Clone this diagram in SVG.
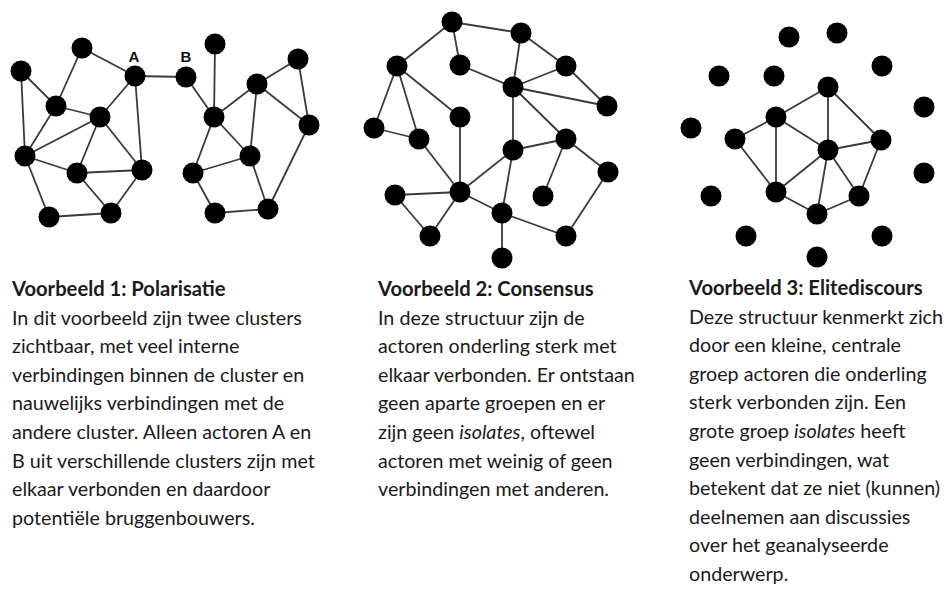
<svg xmlns="http://www.w3.org/2000/svg" width="944" height="591" viewBox="0 0 944 591">
<style>
.e{stroke:#3a3a3a;stroke-width:1.8;fill:none}
.n{fill:#000}
.lbl{font-family:"Liberation Sans",Arial,sans-serif;font-weight:bold;font-size:15px;fill:#111}
.t{font-family:Lato,"Liberation Sans",sans-serif;font-size:19.7px;fill:#1a1a1a}
.b{font-weight:bold;font-size:20.2px}
.i{font-style:italic}
</style>
<rect width="944" height="591" fill="#fff"/>
<g id="connectors">
<line class="e" x1="135" y1="76" x2="186" y2="77"/>
<line class="e" x1="82" y1="48" x2="135" y2="76"/>
<line class="e" x1="82" y1="48" x2="56" y2="106"/>
<line class="e" x1="21" y1="71" x2="56" y2="106"/>
<line class="e" x1="21" y1="71" x2="25" y2="156"/>
<line class="e" x1="56" y1="106" x2="100" y2="117"/>
<line class="e" x1="56" y1="106" x2="25" y2="156"/>
<line class="e" x1="25" y1="156" x2="100" y2="117"/>
<line class="e" x1="100" y1="117" x2="135" y2="76"/>
<line class="e" x1="135" y1="76" x2="142" y2="170"/>
<line class="e" x1="100" y1="117" x2="77" y2="173"/>
<line class="e" x1="100" y1="117" x2="142" y2="170"/>
<line class="e" x1="25" y1="156" x2="77" y2="173"/>
<line class="e" x1="77" y1="173" x2="142" y2="170"/>
<line class="e" x1="25" y1="156" x2="49" y2="217"/>
<line class="e" x1="77" y1="173" x2="111" y2="213"/>
<line class="e" x1="49" y1="217" x2="111" y2="213"/>
<line class="e" x1="142" y1="170" x2="111" y2="213"/>
<line class="e" x1="186" y1="77" x2="214" y2="117"/>
<line class="e" x1="215" y1="44" x2="214" y2="117"/>
<line class="e" x1="214" y1="117" x2="257" y2="84"/>
<line class="e" x1="257" y1="84" x2="298" y2="59"/>
<line class="e" x1="298" y1="59" x2="309" y2="125"/>
<line class="e" x1="257" y1="84" x2="309" y2="125"/>
<line class="e" x1="257" y1="84" x2="250" y2="156"/>
<line class="e" x1="214" y1="117" x2="250" y2="156"/>
<line class="e" x1="214" y1="117" x2="193" y2="173"/>
<line class="e" x1="250" y1="156" x2="193" y2="173"/>
<line class="e" x1="193" y1="173" x2="215" y2="213"/>
<line class="e" x1="215" y1="213" x2="268" y2="209"/>
<line class="e" x1="250" y1="156" x2="268" y2="209"/>
<line class="e" x1="309" y1="125" x2="268" y2="209"/>
<line class="e" x1="452" y1="22" x2="397" y2="66"/>
<line class="e" x1="452" y1="22" x2="460" y2="65"/>
<line class="e" x1="452" y1="22" x2="521" y2="33"/>
<line class="e" x1="521" y1="33" x2="513" y2="87"/>
<line class="e" x1="521" y1="33" x2="566" y2="66"/>
<line class="e" x1="460" y1="65" x2="513" y2="87"/>
<line class="e" x1="513" y1="87" x2="566" y2="66"/>
<line class="e" x1="566" y1="66" x2="607" y2="106"/>
<line class="e" x1="513" y1="87" x2="607" y2="106"/>
<line class="e" x1="513" y1="87" x2="566" y2="139"/>
<line class="e" x1="513" y1="87" x2="513" y2="150"/>
<line class="e" x1="513" y1="150" x2="566" y2="139"/>
<line class="e" x1="566" y1="139" x2="543" y2="196"/>
<line class="e" x1="566" y1="139" x2="608" y2="172"/>
<line class="e" x1="397" y1="66" x2="374" y2="128"/>
<line class="e" x1="397" y1="66" x2="419" y2="139"/>
<line class="e" x1="397" y1="66" x2="460" y2="117"/>
<line class="e" x1="374" y1="128" x2="419" y2="139"/>
<line class="e" x1="419" y1="139" x2="460" y2="192"/>
<line class="e" x1="460" y1="117" x2="460" y2="192"/>
<line class="e" x1="460" y1="192" x2="513" y2="150"/>
<line class="e" x1="460" y1="192" x2="395" y2="195"/>
<line class="e" x1="460" y1="192" x2="430" y2="236"/>
<line class="e" x1="395" y1="195" x2="430" y2="236"/>
<line class="e" x1="460" y1="192" x2="502" y2="213"/>
<line class="e" x1="513" y1="150" x2="502" y2="213"/>
<line class="e" x1="502" y1="213" x2="566" y2="236"/>
<line class="e" x1="608" y1="172" x2="566" y2="236"/>
<line class="e" x1="502" y1="213" x2="502" y2="258"/>
<line class="e" x1="735" y1="139" x2="776" y2="117"/>
<line class="e" x1="735" y1="139" x2="776" y2="192"/>
<line class="e" x1="776" y1="117" x2="776" y2="192"/>
<line class="e" x1="776" y1="117" x2="828" y2="87"/>
<line class="e" x1="776" y1="117" x2="828" y2="150"/>
<line class="e" x1="776" y1="192" x2="828" y2="150"/>
<line class="e" x1="776" y1="192" x2="817" y2="214"/>
<line class="e" x1="828" y1="87" x2="828" y2="150"/>
<line class="e" x1="828" y1="87" x2="881" y2="140"/>
<line class="e" x1="828" y1="150" x2="881" y2="140"/>
<line class="e" x1="881" y1="140" x2="859" y2="196"/>
<line class="e" x1="828" y1="150" x2="859" y2="196"/>
<line class="e" x1="828" y1="150" x2="817" y2="214"/>
<line class="e" x1="817" y1="214" x2="859" y2="196"/>
</g>
<g id="g1-n1"><circle class="n" cx="82" cy="48" r="10.5"/></g>
<g id="g1-n2"><circle class="n" cx="21" cy="71" r="10.5"/></g>
<g id="g1-A"><circle class="n" cx="135" cy="76" r="10.5"/><text class="lbl" x="134" y="62" text-anchor="middle">A</text></g>
<g id="g1-n4"><circle class="n" cx="56" cy="106" r="10.5"/></g>
<g id="g1-n5"><circle class="n" cx="100" cy="117" r="10.5"/></g>
<g id="g1-n6"><circle class="n" cx="25" cy="156" r="10.5"/></g>
<g id="g1-n7"><circle class="n" cx="77" cy="173" r="10.5"/></g>
<g id="g1-n8"><circle class="n" cx="142" cy="170" r="10.5"/></g>
<g id="g1-n9"><circle class="n" cx="49" cy="217" r="10.5"/></g>
<g id="g1-n10"><circle class="n" cx="111" cy="213" r="10.5"/></g>
<g id="g1-B"><circle class="n" cx="186" cy="77" r="10.5"/><text class="lbl" x="186" y="62" text-anchor="middle">B</text></g>
<g id="g1-r1"><circle class="n" cx="215" cy="44" r="10.5"/></g>
<g id="g1-r2"><circle class="n" cx="257" cy="84" r="10.5"/></g>
<g id="g1-r3"><circle class="n" cx="298" cy="59" r="10.5"/></g>
<g id="g1-r4"><circle class="n" cx="214" cy="117" r="10.5"/></g>
<g id="g1-r5"><circle class="n" cx="309" cy="125" r="10.5"/></g>
<g id="g1-r6"><circle class="n" cx="250" cy="156" r="10.5"/></g>
<g id="g1-r7"><circle class="n" cx="193" cy="173" r="10.5"/></g>
<g id="g1-r8"><circle class="n" cx="215" cy="213" r="10.5"/></g>
<g id="g1-r9"><circle class="n" cx="268" cy="209" r="10.5"/></g>
<g id="g2-n1"><circle class="n" cx="452" cy="22" r="10.5"/></g>
<g id="g2-n2"><circle class="n" cx="521" cy="33" r="10.5"/></g>
<g id="g2-n3"><circle class="n" cx="397" cy="66" r="10.5"/></g>
<g id="g2-n4"><circle class="n" cx="460" cy="65" r="10.5"/></g>
<g id="g2-n5"><circle class="n" cx="566" cy="66" r="10.5"/></g>
<g id="g2-n6"><circle class="n" cx="513" cy="87" r="10.5"/></g>
<g id="g2-n7"><circle class="n" cx="607" cy="106" r="10.5"/></g>
<g id="g2-n8"><circle class="n" cx="460" cy="117" r="10.5"/></g>
<g id="g2-n9"><circle class="n" cx="374" cy="128" r="10.5"/></g>
<g id="g2-n10"><circle class="n" cx="419" cy="139" r="10.5"/></g>
<g id="g2-n11"><circle class="n" cx="566" cy="139" r="10.5"/></g>
<g id="g2-n12"><circle class="n" cx="513" cy="150" r="10.5"/></g>
<g id="g2-n13"><circle class="n" cx="608" cy="172" r="10.5"/></g>
<g id="g2-n14"><circle class="n" cx="543" cy="196" r="10.5"/></g>
<g id="g2-n15"><circle class="n" cx="460" cy="192" r="10.5"/></g>
<g id="g2-n16"><circle class="n" cx="395" cy="195" r="10.5"/></g>
<g id="g2-n17"><circle class="n" cx="502" cy="213" r="10.5"/></g>
<g id="g2-n18"><circle class="n" cx="430" cy="236" r="10.5"/></g>
<g id="g2-n19"><circle class="n" cx="566" cy="236" r="10.5"/></g>
<g id="g2-n20"><circle class="n" cx="502" cy="258" r="10.5"/></g>
<g id="g3-i1"><circle class="n" cx="789" cy="37" r="10.5"/></g>
<g id="g3-i2"><circle class="n" cx="837" cy="33" r="10.5"/></g>
<g id="g3-i3"><circle class="n" cx="719" cy="76" r="10.5"/></g>
<g id="g3-i4"><circle class="n" cx="774" cy="76" r="10.5"/></g>
<g id="g3-i5"><circle class="n" cx="882" cy="66" r="10.5"/></g>
<g id="g3-i6"><circle class="n" cx="691" cy="128" r="10.5"/></g>
<g id="g3-i7"><circle class="n" cx="924" cy="107" r="10.5"/></g>
<g id="g3-i8"><circle class="n" cx="924" cy="173" r="10.5"/></g>
<g id="g3-i9"><circle class="n" cx="711" cy="196" r="10.5"/></g>
<g id="g3-i10"><circle class="n" cx="746" cy="236" r="10.5"/></g>
<g id="g3-i11"><circle class="n" cx="882" cy="236" r="10.5"/></g>
<g id="g3-i12"><circle class="n" cx="817" cy="257" r="10.5"/></g>
<g id="g3-c1"><circle class="n" cx="735" cy="139" r="10.5"/></g>
<g id="g3-c2"><circle class="n" cx="776" cy="117" r="10.5"/></g>
<g id="g3-c3"><circle class="n" cx="776" cy="192" r="10.5"/></g>
<g id="g3-c4"><circle class="n" cx="828" cy="87" r="10.5"/></g>
<g id="g3-c5"><circle class="n" cx="828" cy="150" r="10.5"/></g>
<g id="g3-c6"><circle class="n" cx="881" cy="140" r="10.5"/></g>
<g id="g3-c7"><circle class="n" cx="859" cy="196" r="10.5"/></g>
<g id="g3-c8"><circle class="n" cx="817" cy="214" r="10.5"/></g>
<g id="caption1">
<text class="t">
<tspan class="b" x="12" y="296">Voorbeeld 1: Polarisatie</tspan>
<tspan x="12" y="324.6">In dit voorbeeld zijn twee clusters</tspan>
<tspan x="12" y="353.2">zichtbaar, met veel interne</tspan>
<tspan x="12" y="381.8">verbindingen binnen de cluster en</tspan>
<tspan x="12" y="410.4">nauwelijks verbindingen met de</tspan>
<tspan x="12" y="439">andere cluster. Alleen actoren A en</tspan>
<tspan x="12" y="467.6">B uit verschillende clusters zijn met</tspan>
<tspan x="12" y="496.2">elkaar verbonden en daardoor</tspan>
<tspan x="12" y="524.8">potentiële bruggenbouwers.</tspan>
</text>
</g>
<g id="caption2">
<text class="t">
<tspan class="b" x="378" y="296">Voorbeeld 2: Consensus</tspan>
<tspan x="378" y="324.6">In deze structuur zijn de</tspan>
<tspan x="378" y="353.2">actoren onderling sterk met</tspan>
<tspan x="378" y="381.8">elkaar verbonden. Er ontstaan</tspan>
<tspan x="378" y="410.4">geen aparte groepen en er</tspan>
<tspan x="378" y="439">zijn geen <tspan class="i">isolates</tspan>, oftewel</tspan>
<tspan x="378" y="467.6">actoren met weinig of geen</tspan>
<tspan x="378" y="496.2">verbindingen met anderen.</tspan>
</text>
</g>
<g id="caption3">
<text class="t">
<tspan class="b" x="689" y="295">Voorbeeld 3: Elitediscours</tspan>
<tspan x="689" y="323.6">Deze structuur kenmerkt zich</tspan>
<tspan x="689" y="352.2">door een kleine, centrale</tspan>
<tspan x="689" y="380.8">groep actoren die onderling</tspan>
<tspan x="689" y="409.4">sterk verbonden zijn. Een</tspan>
<tspan x="689" y="438">grote groep <tspan class="i">isolates</tspan> heeft</tspan>
<tspan x="689" y="466.6">geen verbindingen, wat</tspan>
<tspan x="689" y="495.2">betekent dat ze niet (kunnen)</tspan>
<tspan x="689" y="523.8">deelnemen aan discussies</tspan>
<tspan x="689" y="552.4">over het geanalyseerde</tspan>
<tspan x="689" y="581">onderwerp.</tspan>
</text>
</g>
</svg>
